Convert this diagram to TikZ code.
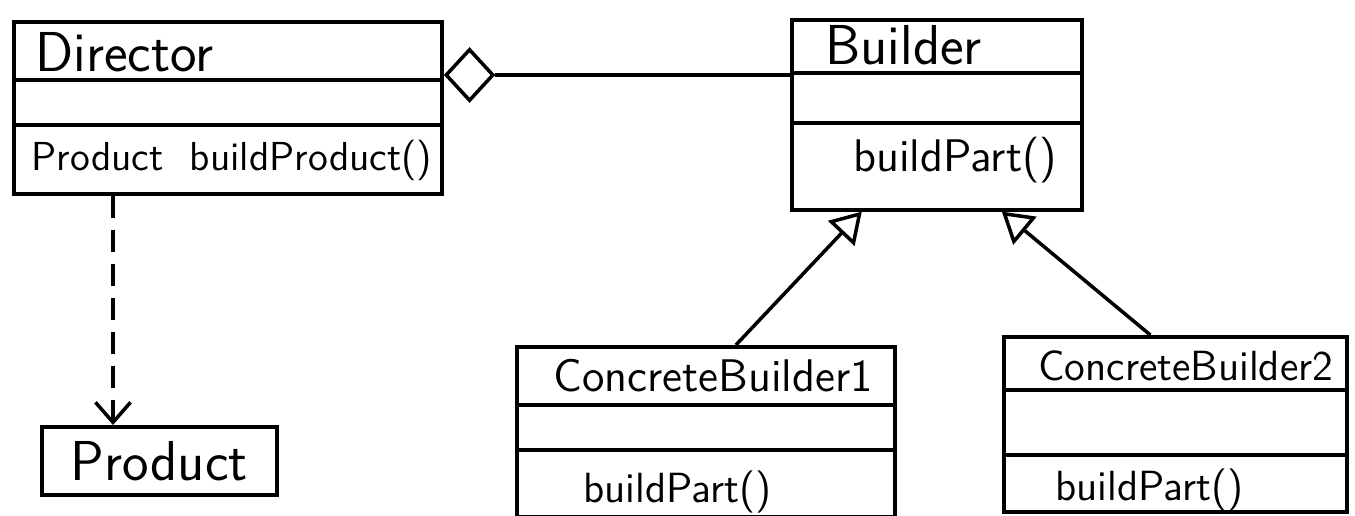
\documentclass[tikz,border=0pt]{standalone}
\usetikzlibrary{positioning,shapes.geometric,arrows.meta}

\begin{document}
\begin{tikzpicture}[x=0.01cm,y=-0.01cm,font=\sffamily,line width=1pt,
  cls/.style={draw,anchor=north west,inner sep=0pt},
  title/.style={anchor=west,font=\sffamily\fontsize{16}{18}\selectfont},
  subtitle/.style={anchor=west,font=\sffamily\fontsize{13}{15}\selectfont},
  member/.style={anchor=west,font=\sffamily\fontsize{13}{15}\selectfont},
  inherit/.style={-{Triangle[open,length=0.3cm,width=0.36cm]}},
  depend/.style={dash pattern=on 0.22cm off 0.12cm,-{Straight Barb[length=0.2cm,width=0.35cm]}}]
  \useasboundingbox (0,0) rectangle (1355,515);
  % Director
  \node[cls,minimum width=4.28cm,minimum height=1.72cm] (dir) at (12,20) {};
  \draw ([yshift=-0.6cm]dir.north west) -- ([yshift=-0.6cm]dir.north east);
  \draw ([yshift=-1.05cm]dir.north west) -- ([yshift=-1.05cm]dir.north east);
  \node[title] (dirname) at (22,52) {Director};
  \node[member,font=\sffamily\fontsize{11.5}{14}\selectfont] (dirop) at (18,160) {Product\ \ buildProduct()};
  % Builder
  \node[cls,minimum width=2.9cm,minimum height=1.9cm] (bld) at (790,18) {};
  \draw ([yshift=-0.55cm]bld.north west) -- ([yshift=-0.55cm]bld.north east);
  \draw ([yshift=-1.05cm]bld.north west) -- ([yshift=-1.05cm]bld.north east);
  \node[title] (bldname) at (812,45) {Builder};
  \node[member] (bldop) at (840,160) {buildPart()};
  % aggregation
  \node[diamond,draw,inner sep=0pt,minimum width=0.48cm,minimum height=0.52cm,anchor=west]
    (agg) at (dir.east |- 0,75) {};
  \draw (agg.east) -- (bld.west |- agg.east);
  % ConcreteBuilder1
  \node[cls,minimum width=3.78cm,minimum height=1.7cm] (cb1) at (515,345) {};
  \draw ([yshift=-0.6cm]cb1.north west) -- ([yshift=-0.6cm]cb1.north east);
  \draw ([yshift=-1.05cm]cb1.north west) -- ([yshift=-1.05cm]cb1.north east);
  \node[subtitle] (cb1name) at (540,376) {ConcreteBuilder1};
  \node[member,font=\sffamily\fontsize{12}{14}\selectfont] (cb1op) at (570,492) {buildPart()};
  % ConcreteBuilder2
  \node[cls,minimum width=3.43cm,minimum height=1.75cm] (cb2) at (1002,335) {};
  \draw ([yshift=-0.55cm]cb2.north west) -- ([yshift=-0.55cm]cb2.north east);
  \draw ([yshift=-1.2cm]cb2.north west) -- ([yshift=-1.2cm]cb2.north east);
  \node[subtitle,font=\sffamily\fontsize{12}{14}\selectfont] (cb2name) at (1025,366) {ConcreteBuilder2};
  \node[member,font=\sffamily\fontsize{12}{14}\selectfont] (cb2op) at (1042,490) {buildPart()};
  % generalization
  \draw[inherit] ([xshift=0.3cm]cb1.north) -- ([xshift=-0.75cm]bld.south);
  \draw[inherit] ([xshift=-0.25cm]cb2.north) -- ([xshift=0.65cm]bld.south);
  % Product
  \node[cls,minimum width=2.35cm,minimum height=0.68cm] (prod) at (40,425) {};
  \node[title] (prodname) at (prod.center) [anchor=center] {Product};
  \draw[depend] (dir.south -| 113,0) -- (prod.north -| 113,0);
\end{tikzpicture}
\end{document}
